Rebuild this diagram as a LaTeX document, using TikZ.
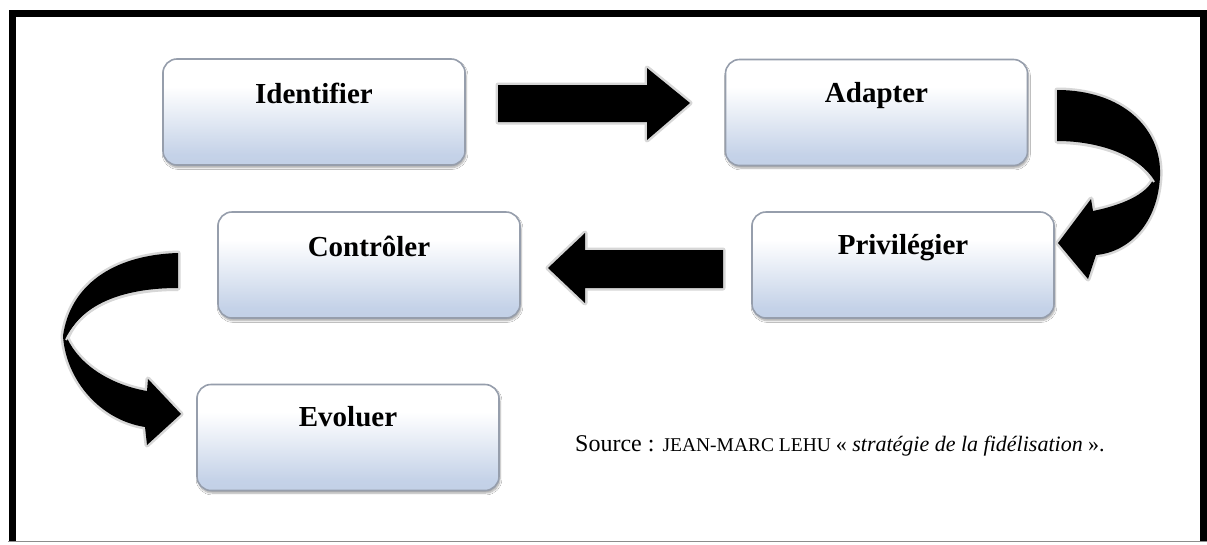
\documentclass[tikz,border=0pt]{standalone}
\usepackage{fontspec}
\setmainfont{Liberation Serif}
\usetikzlibrary{shadows.blur}
\definecolor{boxblue}{RGB}{182,199,226}
\definecolor{boxedge}{RGB}{150,158,172}
\definecolor{glow}{RGB}{215,215,215}
\pgfdeclareverticalshading{stepshade}{100bp}{color(0bp)=(boxblue); color(30bp)=(boxblue!80!white); color(62bp)=(white); color(100bp)=(white)}
\tikzset{
  stepbox/.style={draw=boxedge, line width=1.6pt, rounded corners=14pt,
    shading=stepshade, minimum width=302pt, minimum height=106pt,
    inner sep=0pt,
    blur shadow={shadow blur steps=6, shadow xshift=1pt, shadow yshift=-2.5pt, shadow opacity=35}},
  steplabel/.style={anchor=base, font=\fontsize{29}{32}\selectfont\bfseries, inner sep=0pt},
  blockarrow/.style={fill=black, preaction={draw=glow, line width=5pt, line join=round}},
  frameline/.style={line width=7pt, draw=black},
}
\begin{document}
\begin{tikzpicture}[x=1pt, y=-1pt]
\useasboundingbox (0,0) rectangle (1207,544);
\fill[white] (0,0) rectangle (1207,544);

% outer frame
\draw[frameline] (12,541) -- (12,13.5) -- (1203.5,13.5) -- (1203.5,541);
\draw[black!45, line width=1pt] (8,541) -- (1207,541);

% the five steps
\node[stepbox] (ident) at (314,112) {};
\node[stepbox] (adapt) at (876.5,112.5) {};
\node[stepbox] (privil) at (903,265) {};
\node[stepbox] (control) at (369,265) {};
\node[stepbox] (evol) at (348,437.5) {};

\node[steplabel] at ([yshift=-45pt]ident.north) {Identifier};
\node[steplabel] at ([yshift=-44pt]adapt.north) {Adapter};
\node[steplabel] at ([yshift=-43pt]privil.north) {Privilégier};
\node[steplabel] at ([yshift=-45pt]control.north) {Contrôler};
\node[steplabel] at ([yshift=-43pt]evol.north) {Evoluer};

% straight block arrows
\path[blockarrow] (498,85) -- (647,85) -- (647,68) -- (690,103) -- (647,140) -- (647,122) -- (498,122) -- cycle;
\path[blockarrow] (723,250) -- (585,250) -- (585,233) -- (548,268) -- (585,303) -- (585,288) -- (723,288) -- cycle;

% curved arrow on the right
\path[blockarrow] (1057,90) .. controls (1122,90) and (1162,128) .. (1160,176)
  .. controls (1158,222) and (1130,252) .. (1096,255)
  -- (1088,279) -- (1058,243) -- (1091,199) -- (1093,211)
  .. controls (1122,205) and (1145,195) .. (1153,180)
  .. controls (1140,156) and (1100,141) .. (1057,141) -- cycle;
\draw[glow, line width=2pt] (1057,143) .. controls (1100,143) and (1140,158) .. (1154,182);

% curved arrow on the left
\path[blockarrow] (178,253) .. controls (112,255) and (70,286) .. (63,336)
  .. controls (66,380) and (100,420) .. (145,427)
  -- (147,445) -- (181,414) -- (148,379) -- (147,391)
  .. controls (112,385) and (80,366) .. (67,338)
  .. controls (80,306) and (120,288) .. (178,288) -- cycle;
\draw[glow, line width=2pt] (178,290) .. controls (120,290) and (82,307) .. (66,340);

% source line
\node[anchor=base west, inner sep=0pt] (src) at (575,451)
  {\fontsize{24}{26}\selectfont Source : \fontsize{19.5}{22}\selectfont JEAN-MARC LEHU
   \fontsize{22}{24}\selectfont « \textit{stratégie de la fidélisation} ».};
\end{tikzpicture}
\end{document}
